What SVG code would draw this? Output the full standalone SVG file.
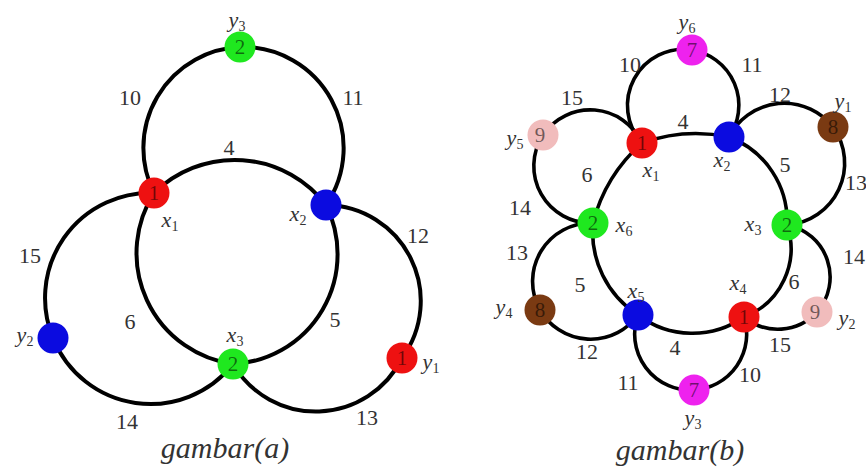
<svg xmlns="http://www.w3.org/2000/svg" width="866" height="467" viewBox="0 0 866 467">
<style>
.e{fill:none;stroke:#000;stroke-width:4;stroke-linecap:round}
.eb{fill:none;stroke:#000;stroke-width:3.6;stroke-linecap:round}
.lb{font-family:"Liberation Serif","DejaVu Serif",serif;font-size:22px;fill:#333;text-anchor:middle}
.vl{font-family:"Liberation Serif","DejaVu Serif",serif;font-size:22px;font-style:italic;fill:#333;text-anchor:middle}
.sb{font-size:14px;font-style:normal}
.nn{font-family:"Liberation Serif","DejaVu Serif",serif;font-size:21px;fill:#000;fill-opacity:0.55;text-anchor:middle}
.cap{font-family:"Liberation Serif","DejaVu Serif",serif;font-size:30px;font-style:italic;fill:#333;text-anchor:middle}
.g{fill:#1fe81f}.r{fill:#ee1111}.b{fill:#0b0be0}.m{fill:#ee22ee}.br{fill:#7a3a12}.p{fill:#f1bcbc}
</style>
<rect width="866" height="467" fill="#fff"/>
<g id="connectors-a">
<path class="e" d="M154,193 A101,101 0 0,1 240,47"/>
<path class="e" d="M240,47 A101,101 0 0,1 326,205"/>
<path class="e" d="M154,193 A115,115 0 0,1 326,205"/>
<path class="e" d="M326,205 A110,110 0 0,1 233,364"/>
<path class="e" d="M233,364 A112,112 0 0,1 154,193"/>
<path class="e" d="M154,193 A105,105 0 0,0 53,338"/>
<path class="e" d="M53,338 A105,105 0 0,0 233,364"/>
<path class="e" d="M326,205 A96,96 0 0,1 402,358"/>
<path class="e" d="M402,358 A96,96 0 0,1 233,364"/>
</g>
<g id="edge-labels-a">
<text class="lb" x="130" y="105">10</text>
<text class="lb" x="353" y="105">11</text>
<text class="lb" x="229" y="155">4</text>
<text class="lb" x="30" y="263">15</text>
<text class="lb" x="130" y="329">6</text>
<text class="lb" x="335" y="327">5</text>
<text class="lb" x="418" y="243">12</text>
<text class="lb" x="127" y="429">14</text>
<text class="lb" x="367" y="425">13</text>
</g>
<g id="a-y3"><circle class="g" cx="240" cy="47" r="15.5"/><text class="nn" x="240" y="54">2</text><text class="vl" x="237" y="27">y<tspan class="sb" dy="4">3</tspan></text></g>
<g id="a-x1"><circle class="r" cx="154" cy="193" r="15.5"/><text class="nn" x="154" y="200">1</text><text class="vl" x="170" y="227">x<tspan class="sb" dy="4">1</tspan></text></g>
<g id="a-x2"><circle class="b" cx="326" cy="205" r="15.5"/><text class="vl" x="298" y="221">x<tspan class="sb" dy="4">2</tspan></text></g>
<g id="a-x3"><circle class="g" cx="233" cy="364" r="15.5"/><text class="nn" x="233" y="371">2</text><text class="vl" x="235" y="342">x<tspan class="sb" dy="4">3</tspan></text></g>
<g id="a-y2"><circle class="b" cx="53" cy="338" r="15.5"/><text class="vl" x="25" y="342">y<tspan class="sb" dy="4">2</tspan></text></g>
<g id="a-y1"><circle class="r" cx="402" cy="358" r="15.5"/><text class="nn" x="402" y="365">1</text><text class="vl" x="431" y="369">y<tspan class="sb" dy="4">1</tspan></text></g>
<text class="cap" x="225" y="458">gambar(a)</text>

<g id="connectors-b">
<path class="eb" d="M642,143 A160,160 0 0,1 729,137"/>
<path class="eb" d="M729,137 A90,90 0 0,1 787,225"/>
<path class="eb" d="M787,225 A73,73 0 0,1 744,317"/>
<path class="eb" d="M744,317 A90,90 0 0,1 638,315"/>
<path class="eb" d="M638,315 A99,99 0 0,1 593,223"/>
<path class="eb" d="M593,223 A160,160 0 0,1 642,143"/>
<path class="eb" d="M642,143 A56,56 0 0,1 692,50"/>
<path class="eb" d="M692,50 A56,56 0 0,1 729,137"/>
<path class="eb" d="M729,137 A62,62 0 0,1 833,127"/>
<path class="eb" d="M833,127 A62,62 0 0,1 787,225"/>
<path class="eb" d="M642,143 A57,57 0 0,0 543,135"/>
<path class="eb" d="M543,135 A57,57 0 0,0 593,223"/>
<path class="eb" d="M593,223 A58.5,58.5 0 0,0 540,310"/>
<path class="eb" d="M540,310 A58.5,58.5 0 0,0 638,315"/>
<path class="eb" d="M638,315 A56,56 0 0,0 694,390"/>
<path class="eb" d="M694,390 A56,56 0 0,0 744,317"/>
<path class="eb" d="M787,225 A53,53 0 0,1 817,312"/>
<path class="eb" d="M817,312 A53,53 0 0,1 744,317"/>
</g>
<g id="edge-labels-b">
<text class="lb" x="630" y="72">10</text>
<text class="lb" x="752" y="72">11</text>
<text class="lb" x="572" y="105">15</text>
<text class="lb" x="780" y="102">12</text>
<text class="lb" x="683" y="129">4</text>
<text class="lb" x="785" y="172">5</text>
<text class="lb" x="856" y="190">13</text>
<text class="lb" x="587" y="182">6</text>
<text class="lb" x="520" y="215">14</text>
<text class="lb" x="517" y="260">13</text>
<text class="lb" x="854" y="264">14</text>
<text class="lb" x="580" y="292">5</text>
<text class="lb" x="794" y="289">6</text>
<text class="lb" x="675" y="355">4</text>
<text class="lb" x="587" y="359">12</text>
<text class="lb" x="780" y="352">15</text>
<text class="lb" x="628" y="390">11</text>
<text class="lb" x="750" y="382">10</text>
</g>
<g id="b-y6"><circle class="m" cx="692" cy="50" r="15.5"/><text class="nn" x="692" y="57">7</text><text class="vl" x="687" y="29">y<tspan class="sb" dy="4">6</tspan></text></g>
<g id="b-x1"><circle class="r" cx="642" cy="143" r="15.5"/><text class="nn" x="642" y="150">1</text><text class="vl" x="651" y="177">x<tspan class="sb" dy="4">1</tspan></text></g>
<g id="b-x2"><circle class="b" cx="729" cy="137" r="15.5"/><text class="vl" x="722" y="167">x<tspan class="sb" dy="4">2</tspan></text></g>
<g id="b-y1"><circle class="br" cx="833" cy="127" r="15.5"/><text class="nn" x="833" y="134">8</text><text class="vl" x="843" y="108">y<tspan class="sb" dy="4">1</tspan></text></g>
<g id="b-y5"><circle class="p" cx="543" cy="135" r="15.5"/><text class="nn" x="540" y="142">9</text><text class="vl" x="515" y="145">y<tspan class="sb" dy="4">5</tspan></text></g>
<g id="b-x6"><circle class="g" cx="593" cy="223" r="15.5"/><text class="nn" x="593" y="230">2</text><text class="vl" x="624" y="232">x<tspan class="sb" dy="4">6</tspan></text></g>
<g id="b-x3"><circle class="g" cx="787" cy="225" r="15.5"/><text class="nn" x="787" y="232">2</text><text class="vl" x="753" y="231">x<tspan class="sb" dy="4">3</tspan></text></g>
<g id="b-y4"><circle class="br" cx="540" cy="310" r="15.5"/><text class="nn" x="540" y="317">8</text><text class="vl" x="504" y="314">y<tspan class="sb" dy="4">4</tspan></text></g>
<g id="b-x5"><circle class="b" cx="638" cy="315" r="15.5"/><text class="vl" x="636" y="298">x<tspan class="sb" dy="4">5</tspan></text></g>
<g id="b-x4"><circle class="r" cx="744" cy="317" r="15.5"/><text class="nn" x="744" y="324">1</text><text class="vl" x="738" y="290">x<tspan class="sb" dy="4">4</tspan></text></g>
<g id="b-y2"><circle class="p" cx="817" cy="312" r="15.5"/><text class="nn" x="815" y="319">9</text><text class="vl" x="847" y="325">y<tspan class="sb" dy="4">2</tspan></text></g>
<g id="b-y3"><circle class="m" cx="694" cy="390" r="15.5"/><text class="nn" x="694" y="397">7</text><text class="vl" x="693" y="425">y<tspan class="sb" dy="4">3</tspan></text></g>
<text class="cap" x="680" y="460">gambar(b)</text>
</svg>
